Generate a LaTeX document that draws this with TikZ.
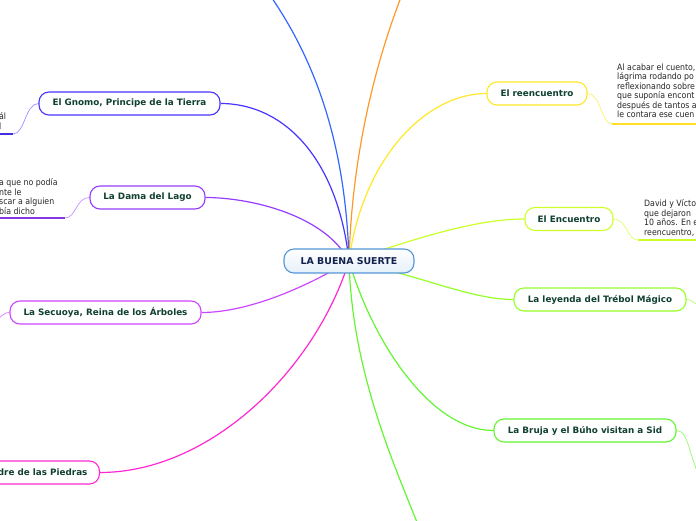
\documentclass[tikz,border=0pt]{standalone}
\usepackage{fontspec}
\setmainfont{DejaVu Sans}
\newfontfamily\notefont{DejaVu Sans Condensed}
\usetikzlibrary{positioning}
\pgfdeclarelayer{back}
\pgfsetlayers{back,main}
\definecolor{labelgreen}{RGB}{16,64,48}
\definecolor{rootnavy}{RGB}{18,32,78}
\definecolor{rootblue}{RGB}{84,150,218}
\definecolor{skyblue}{RGB}{51,102,255}
\definecolor{tangerine}{RGB}{255,153,40}
\definecolor{gnomoblue}{RGB}{72,52,255}
\definecolor{lakepurple}{RGB}{150,60,255}
\definecolor{treeviolet}{RGB}{205,70,255}
\definecolor{stonepink}{RGB}{255,40,210}
\definecolor{meetyellow}{RGB}{255,232,40}
\definecolor{lime}{RGB}{204,255,40}
\definecolor{cloverlime}{RGB}{150,255,40}
\definecolor{owlgreen}{RGB}{100,245,50}
\begin{document}
\begin{tikzpicture}[x=1pt,y=1pt,
    topic/.style={draw, rounded corners=10pt, line width=1.1pt, fill=white,
      minimum height=23pt, inner xsep=12pt, text=labelgreen,
      font=\bfseries\fontsize{8.8}{10}\selectfont},
    note/.style={align=left, anchor=north west, inner sep=0pt, text=black!85,
      font=\notefont\fontsize{8.7}{9.5}\selectfont},
    branch/.style={line width=1.2pt},
    twig/.style={line width=0.7pt},
    underline/.style={line width=1.5pt}]
    \useasboundingbox (0,0) rectangle (696,520);

    % Root
    \node[draw=rootblue, line width=1.1pt, rounded corners=10pt, top color=white,
      bottom color=rootblue!15, minimum width=130pt, minimum height=24pt,
      text=rootnavy, font=\bfseries\fontsize{9.4}{11}\selectfont]
      (root) at (349,259) {LA BUENA SUERTE};

    % Topics on the left
    \node[topic, draw=gnomoblue, minimum width=181pt] (gnomo) at (129.5,416.5)
      {El Gnomo, Principe de la Tierra};
    \node[topic, draw=lakepurple, minimum width=115pt] (dama) at (147.5,322.5)
      {La Dama del Lago};
    \node[topic, draw=treeviolet, minimum width=191pt] (secuoya) at (105.5,207.5)
      {La Secuoya, Reina de los Árboles};
    \node[topic, draw=stonepink, anchor=east] (piedras) at (100,47.5)
      {La Madre de las Piedras};

    % Topics on the right
    \node[topic, draw=meetyellow, minimum width=100pt] (reencuentro) at (537,426.5)
      {El reencuentro};
    \node[topic, draw=lime, minimum width=88pt] (encuentro) at (569,301)
      {El Encuentro};
    \node[topic, draw=cloverlime, minimum width=172pt] (trebol) at (600,220.5)
      {La leyenda del Trébol Mágico};
    \node[topic, draw=owlgreen, minimum width=182pt] (bruja) at (585,89.5)
      {La Bruja y el Búho visitan a Sid};

    % Notes
    \node[note] (gnomonote) at (-1,407.5) {ál\\l};
    \node[note] (damanote) at (-1,341.5)
      {a que no podía\\nte le\\scar a alguien\\bía dicho};
    \node[note] (reencuentronote) at (617,456.5)
      {Al acabar el cuento,\\lágrima rodando po\\reflexionando sobre\\que suponía encont\\después de tantos a\\le contara ese cuen};
    \node[note] (encuentronote) at (644,320.5)
      {David y Víctor\\que dejaron\\10 años. En el\\reencuentro,};

    % Free ends
    \coordinate (topleft) at (255,545);
    \coordinate (topright) at (410,545);
    \coordinate (bottom) at (421,-12);
    \coordinate (gnomoend) at (13,386);
    \coordinate (damaend) at (65,302);
    \coordinate (reencuentroend) at (612,396);
    \coordinate (encuentroend) at (638,280);

    \begin{pgfonlayer}{back}
      \clip (0,0) rectangle (696,520);
      % Branches from the root
      \draw[branch, skyblue] (root.center) .. controls (346,370) and (318,465) .. (topleft);
      \draw[branch, tangerine] (root.center) .. controls (352,370) and (378,470) .. (topright);
      \draw[branch, owlgreen] (root.center) .. controls (352,150) and (392,60) .. (bottom);
      \draw[branch, gnomoblue] (root.center) .. controls (338,360) and (285,416.5) .. (gnomo.east);
      \draw[branch, lakepurple] (root.center) .. controls (325,305) and (250,322.5) .. (dama.east);
      \draw[branch, treeviolet] (root.center) .. controls (310,235) and (250,207.5) .. (secuoya.east);
      \draw[branch, stonepink] (root.center) .. controls (315,150) and (210,47.5) .. (piedras.east);
      \draw[branch, meetyellow] (root.center) .. controls (362,360) and (425,426.5) .. (reencuentro.west);
      \draw[branch, lime] (root.center) .. controls (425,285) and (480,301) .. (encuentro.west);
      \draw[branch, cloverlime] (root.center) .. controls (420,245) and (470,220.5) .. (trebol.west);
      \draw[branch, owlgreen] (root.center) .. controls (372,180) and (430,89.5) .. (bruja.west);

      % Twigs to the notes
      \draw[twig, gnomoblue!55] (gnomo.west) .. controls (25,416.5) and (25,386) .. (gnomoend);
      \draw[underline, gnomoblue!90!black] (gnomoend) -- ++(-20,0);
      \draw[twig, lakepurple!55] (dama.west) .. controls (76,322.5) and (76,302) .. (damaend);
      \draw[underline, lakepurple!90!black] (damaend) -- ++(-70,0);
      \draw[twig, meetyellow!70] (reencuentro.east) .. controls (601,426.5) and (601,396) .. (reencuentroend);
      \draw[underline, meetyellow!90!orange] (reencuentroend) -- ++(90,0);
      \draw[twig, lime!70] (encuentro.east) .. controls (627,301) and (627,280) .. (encuentroend);
      \draw[underline, lime] (encuentroend) -- ++(60,0);
      \draw[twig, cloverlime!70] (trebol.east) .. controls (694,220.5) and (694,214) .. ++(20,-8);
      \draw[twig, owlgreen!70] (bruja.east) .. controls (690,89.5) and (688,60) .. ++(30,-60);
      \draw[twig, treeviolet!70] (secuoya.west) .. controls (2,207.5) and (2,202) .. ++(-20,-12);
    \end{pgfonlayer}
\end{tikzpicture}
\end{document}
